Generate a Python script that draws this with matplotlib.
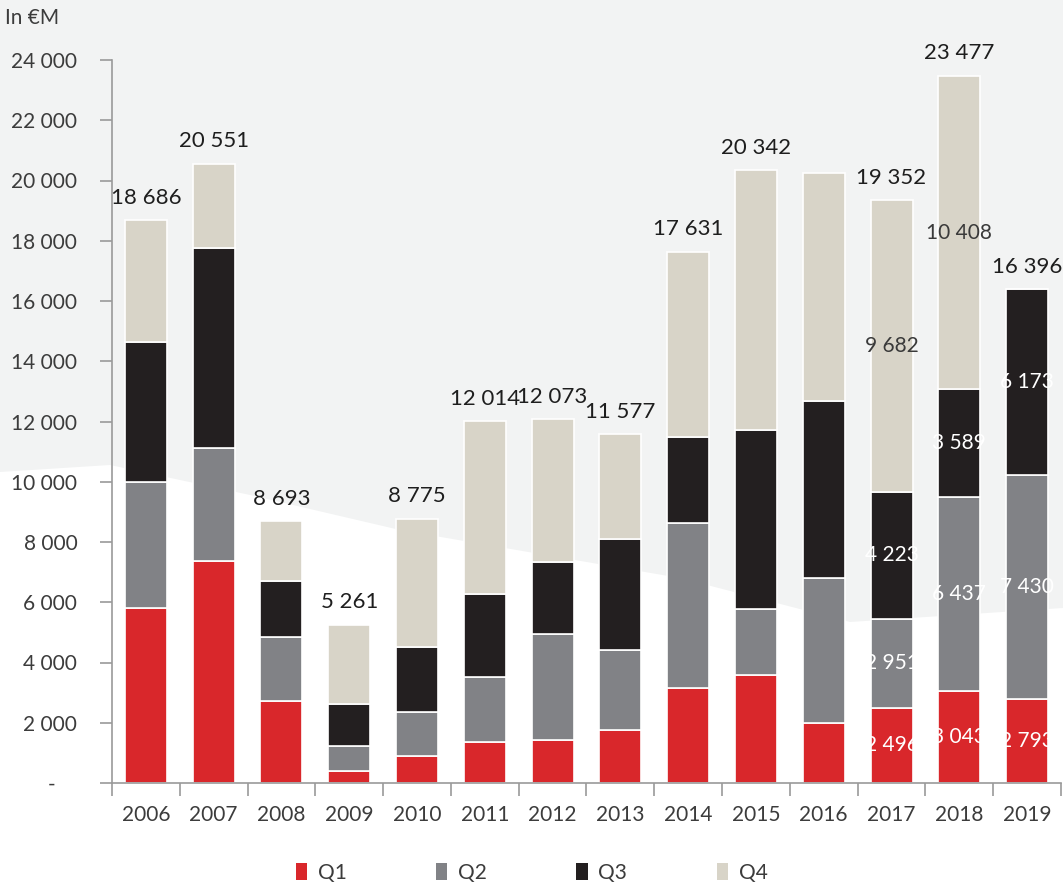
import numpy as np
import matplotlib.pyplot as plt
from matplotlib.patches import Polygon, Patch

years = ['2006', '2007', '2008', '2009', '2010', '2011', '2012',
         '2013', '2014', '2015', '2016', '2017', '2018', '2019']
q1 = [5810, 7370, 2720, 400, 900, 1360, 1430, 1760, 3150, 3580, 1990, 2496, 3043, 2793]
q2 = [4180, 3750, 2130, 830, 1460, 2160, 3520, 2650, 5480, 2190, 4810, 2951, 6437, 7430]
q3 = [4650, 6640, 1850, 1390, 2150, 2750, 2380, 3690, 2850, 5950, 5880, 4223, 3589, 6173]
totals = [18686, 20551, 8693, 5261, 8775, 12014, 12073, 11577, 17631, 20342, None, 19352, 23477, 16396]
q4_2016 = 7570
labelled_years = ['2017', '2018', '2019']

# q4 = total minus the other quarters
q4 = []
for i in range(len(years)):
    if totals[i] is None:
        q4.append(q4_2016)
    else:
        q4.append(totals[i] - q1[i] - q2[i] - q3[i])

colors = ['#d9272b', '#818286', '#231f20', '#d8d4c8']
names = ['Q1', 'Q2', 'Q3', 'Q4']

plt.rcParams['font.family'] = ['Lato', 'DejaVu Sans']

fig = plt.figure(figsize=(10.63, 8.91), dpi=100)
fig.patch.set_facecolor('#f2f3f3')

# white swoosh in the lower part of the background
bg = fig.add_axes([0, 0, 1, 1], zorder=-1)
bg.set_xlim(0, 1063)
bg.set_ylim(891, 0)
bg.axis('off')
bg.add_patch(Polygon([(0, 472), (110, 465), (250, 495), (400, 530), (680, 578), (850, 622),
                      (1063, 608), (1063, 891), (0, 891)],
                     closed=True, facecolor='white', edgecolor='none'))

ax = fig.add_axes([112 / 1063, 108 / 891, 949 / 1063, 723 / 891])
ax.set_facecolor('none')

x = np.arange(len(years))
bottom = np.zeros(len(years))
series = [q1, q2, q3, q4]
for k, vals in enumerate(series):
    vals = np.array(vals, dtype=float)
    ax.bar(x, vals, 0.62, bottom=bottom, color=colors[k], edgecolor='white',
           linewidth=1.2, label=names[k], zorder=2)
    for i, y in enumerate(years):
        if y in labelled_years and vals[i] > 0:
            ax.text(x[i], bottom[i] + vals[i] / 2, f'{int(vals[i]):,}'.replace(',', ' '),
                    ha='center', va='center', fontsize=15,
                    color='#3a3a3a' if k == 3 else 'white', zorder=3)
    bottom += vals

for i, t in enumerate(totals):
    if t is None:
        continue
    ax.annotate(f'{t:,}'.replace(',', ' '), (x[i], t), xytext=(0, 9),
                textcoords='offset points', ha='center', va='bottom',
                fontsize=16, color='#1e1e1e')

ax.set_xlim(-0.5, len(years) - 0.5)
ax.set_ylim(0, 24000)
ax.set_yticks(np.arange(0, 24001, 2000))
ax.set_yticklabels(['-    '] + [f'{v:,}'.replace(',', ' ') for v in range(2000, 24001, 2000)])
ax.set_xticks(x)
ax.set_xticklabels(years)
ax.set_xticks(np.arange(-0.5, len(years), 1), minor=True)
ax.tick_params(axis='x', which='major', length=0, pad=16, labelsize=15, labelcolor='#3c3c3c')
ax.tick_params(axis='x', which='minor', length=9, color='#9a9a9a', width=1.2)
ax.tick_params(axis='y', length=9, color='#9a9a9a', width=1.2, pad=16,
               labelsize=15, labelcolor='#3c3c3c')

for s in ['top', 'right']:
    ax.spines[s].set_visible(False)
for s in ['left', 'bottom']:
    ax.spines[s].set_color('#9a9a9a')
    ax.spines[s].set_linewidth(1.2)

fig.text(5 / 1063, 1 - 18 / 891, 'In €M', fontsize=15, color='#3c3c3c',
         va='center', ha='left')

handles = [Patch(facecolor=c, edgecolor='none') for c in colors]
fig.legend(handles, names, loc='center', bbox_to_anchor=(0.5, 18 / 891), ncol=4,
           frameon=False, fontsize=15, handlelength=0.55, handleheight=0.9,
           handletextpad=0.5, columnspacing=4.3, labelcolor='#3c3c3c')

fig.savefig('out.png', dpi=100, facecolor=fig.get_facecolor())
